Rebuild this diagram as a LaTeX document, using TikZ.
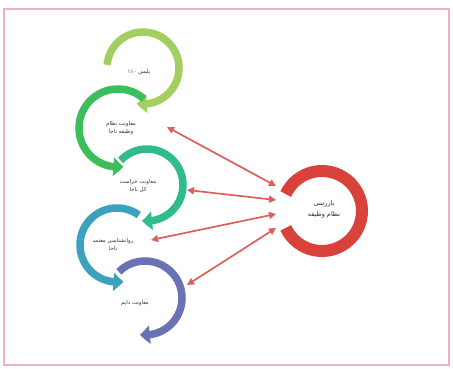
\documentclass[tikz,border=0pt]{standalone}
\usepackage{fontspec}
\newfontfamily\fa[Script=Arabic]{DejaVu Sans}
\TeXXeTstate=1
\usetikzlibrary{arrows.meta,bending}
\definecolor{cA}{HTML}{A2CF5F}
\definecolor{cB}{HTML}{3DBD5C}
\definecolor{cC}{HTML}{2EBC8C}
\definecolor{cD}{HTML}{3AA2BF}
\definecolor{cE}{HTML}{6A72B6}
\definecolor{cR}{HTML}{D9423B}
\definecolor{cArr}{HTML}{DE5F5A}
\definecolor{cFrame}{HTML}{EFAFC8}
\tikzset{
  arcstep/.style={line width=7.5pt, -{Triangle[length=10pt,width=18pt,bend]}},
  lbl/.style={font=\fa\fontsize{5.5}{7.5}\selectfont, align=center, text=black!80, inner sep=0pt},
  biglbl/.style={font=\fa\fontsize{6.5}{11}\selectfont, align=center, text=black!85, inner sep=0pt},
  link/.style={cArr, line width=1.7pt, {Triangle[length=7pt,width=7pt]}-{Triangle[length=7pt,width=7pt]}}
}
\begin{document}
\begin{tikzpicture}[x=1pt,y=1pt]
\useasboundingbox (0,0) rectangle (453,369);
\draw[cFrame, line width=2pt] (4,4) rectangle (449,360);

% arcs
\draw[arcstep, cA] (143,301) ++(175:36) arc[start angle=175, end angle=-100, radius=36];
\draw[arcstep, cB] (118,241) ++(48:39) arc[start angle=48, end angle=278, radius=39];
\draw[arcstep, cC] (147,184) ++(137:36) arc[start angle=137, end angle=-98, radius=36];
\draw[arcstep, cD] (117,124) ++(54:37) arc[start angle=54, end angle=280, radius=37];
\draw[arcstep, cE] (145,71) ++(135:37) arc[start angle=135, end angle=-98, radius=37];

% labels
\node[lbl] (n1) at (139,297) {\beginR پلیس \beginL ۱۱۰\endL{}\endR};
\node[lbl] (n2) at (121,241) {\beginR معاونت نظام\endR\\\beginR وظیفه ناجا\endR};
\node[lbl] (n3) at (138,183) {\beginR معاونت حراست\endR\\\beginR کل ناجا\endR};
\node[lbl] (n4) at (113,124) {\beginR روانشناسی معتمد\endR\\\beginR ناجا\endR};
\node[lbl] (n5) at (135,66) {\beginR معاونت دایم\endR};

% central red arc
\draw[cR, line width=12pt] (322,158) ++(155:40) arc[start angle=155, end angle=-155, radius=40];
\node[biglbl] (insp) at (324,160) {\beginR بازرسی\endR\\\beginR نظام وظیفه\endR};

% link end points
\coordinate (r1) at (276,183);
\coordinate (r2) at (276,169);
\coordinate (r3) at (276,155);
\coordinate (r4) at (276,141);
\coordinate (l1) at (167,242);
\coordinate (l2) at (187,179);
\coordinate (l3) at (151,129);
\coordinate (l4) at (187,84);

\draw[link] (l1) -- (r1);
\draw[link] (l2) -- (r2);
\draw[link] (l3) -- (r3);
\draw[link] (l4) -- (r4);
\end{tikzpicture}
\end{document}
